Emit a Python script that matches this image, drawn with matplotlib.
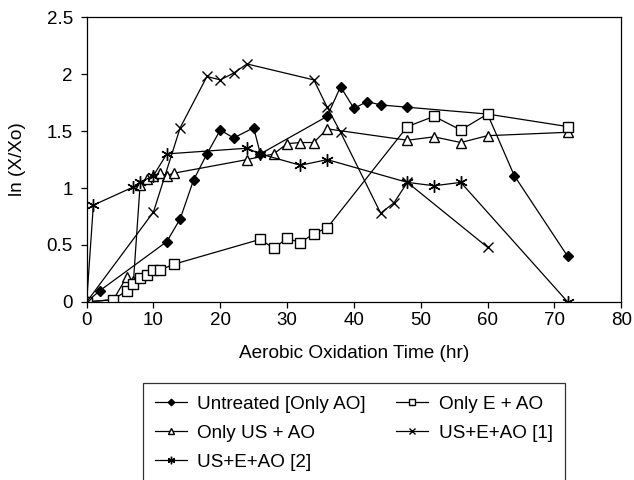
import matplotlib.pyplot as plt

plt.rcParams['font.family'] = ['Liberation Sans', 'DejaVu Sans']

# ---- data: time (hr) and ln(X/Xo) for each run ----
t_untreated = [0, 2, 12, 14, 16, 18, 20, 22, 25, 26, 36, 38, 40, 42, 44, 48, 60, 64, 72]
y_untreated = [0, 0.10, 0.53, 0.73, 1.07, 1.30, 1.51, 1.44, 1.53, 1.30, 1.63, 1.89,
               1.70, 1.76, 1.73, 1.71, 1.65, 1.11, 0.40]

t_only_e = [0, 4, 6, 7, 8, 9, 10, 11, 13, 26, 28, 30, 32, 34, 36, 48, 52, 56, 60, 72]
y_only_e = [0, 0.02, 0.10, 0.16, 0.21, 0.24, 0.28, 0.28, 0.33, 0.55, 0.47, 0.56,
            0.52, 0.60, 0.65, 1.54, 1.63, 1.51, 1.65, 1.54]

t_only_us = [0, 4, 6, 7, 8, 9, 10, 11, 12, 13, 24, 28, 30, 32, 34, 36, 48, 52, 56, 60, 72]
y_only_us = [0, 0.02, 0.22, 0.18, 1.03, 1.08, 1.11, 1.13, 1.11, 1.13, 1.25, 1.30,
             1.39, 1.40, 1.40, 1.52, 1.42, 1.45, 1.40, 1.46, 1.49]

t_use1 = [0, 10, 14, 18, 20, 22, 24, 34, 36, 38, 44, 46, 48, 60]
y_use1 = [0, 0.79, 1.53, 1.98, 1.95, 2.01, 2.09, 1.95, 1.71, 1.49, 0.78, 0.87, 1.05, 0.48]

t_use2 = [0, 1, 7, 8, 10, 12, 24, 26, 32, 36, 48, 52, 56, 72]
y_use2 = [0, 0.85, 1.01, 1.05, 1.11, 1.30, 1.35, 1.30, 1.20, 1.25, 1.05, 1.02, 1.05, 0]

# ---- figure ----
fig = plt.figure(figsize=(6.34, 4.8), dpi=100)
ax = fig.add_axes([0.1367, 0.371, 0.843, 0.593])

lw = 0.9
ax.plot(t_untreated, y_untreated, color='black', lw=lw, marker='D', ms=5.5,
        mfc='black', mec='black', label='Untreated [Only AO]')
ax.plot(t_only_us, y_only_us, color='black', lw=lw, marker='^', ms=7,
        mfc='white', mec='black', mew=1, label='Only US + AO')
ax.plot(t_use2, y_use2, color='black', lw=lw, marker=(6, 2, 0), ms=9,
        mec='black', mew=1, label='US+E+AO [2]')
ax.plot(t_only_e, y_only_e, color='black', lw=lw, marker='s', ms=6.5,
        mfc='white', mec='black', mew=1, label='Only E + AO')
ax.plot(t_use1, y_use1, color='black', lw=lw, marker='x', ms=7,
        mec='black', mew=1, label='US+E+AO [1]')

ax.set_xlim(0, 80)
ax.set_ylim(0, 2.5)
ax.set_xticks(range(0, 81, 10))
ax.set_yticks([0, 0.5, 1, 1.5, 2, 2.5])
ax.set_yticklabels(['0', '0.5', '1', '1.5', '2', '2.5'])
ax.tick_params(axis='both', direction='out', length=4, width=0.9,
               labelsize=13.5, right=False, top=False)
ax.tick_params(axis='y', pad=6)
for sp in ax.spines.values():
    sp.set_linewidth(0.9)

ax.set_xlabel('Aerobic Oxidation Time (hr)', fontsize=13.7, labelpad=11)
ax.set_ylabel('ln (X/Xo)', fontsize=13.7, labelpad=15)

leg = fig.legend(loc='upper left', bbox_to_anchor=(0.225, 0.2015), ncol=2,
                 borderaxespad=0, fontsize=13.6, frameon=True, fancybox=False,
                 edgecolor='black', handlelength=1.7, handletextpad=0.55,
                 columnspacing=1.6, labelspacing=0.62, borderpad=0.65,
                 markerscale=0.6)
leg.get_frame().set_linewidth(0.9)

plt.savefig('out.png', dpi=100)
